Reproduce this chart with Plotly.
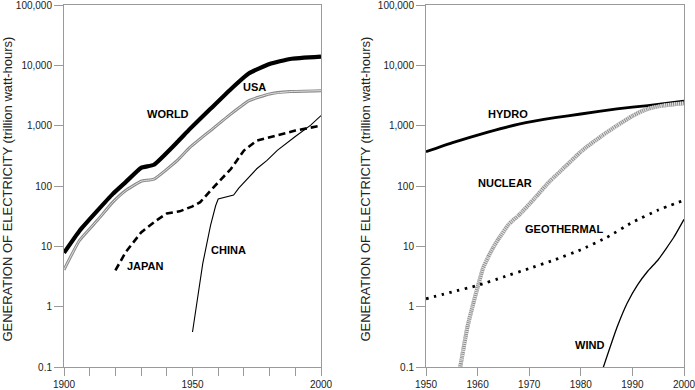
import plotly.graph_objects as go

# ---------------- data ----------------
world_years = [1900, 1906, 1913, 1919, 1924, 1930, 1935, 1944, 1949, 1957, 1965, 1972, 1980, 1988, 2000]
world_vals = [7.8, 18, 39, 74, 116, 200, 225, 530, 885, 1900, 4060, 7380, 10550, 12760, 13900]

usa_years = [1900, 1906, 1913, 1919, 1924, 1930, 1935, 1944, 1949, 1957, 1965, 1972, 1980, 1988, 2000]
usa_vals = [4.1, 12.5, 27, 54, 84, 120, 130, 263, 437, 830, 1570, 2600, 3360, 3670, 3800]

japan_years = [1920, 1924, 1930, 1936, 1940, 1945, 1950, 1953, 1957, 1962, 1965, 1967, 1970, 1975, 1983, 1990, 2000]
japan_vals = [4.0, 8, 17, 27, 35, 38, 46, 54, 84, 140, 193, 255, 387, 566, 685, 830, 1000]

china_years = [1950, 1952, 1954, 1957, 1959, 1960, 1966, 1968, 1975, 1979, 1983, 1990, 1996, 2000]
china_vals = [0.38, 1.3, 5.2, 22, 47, 61, 71, 92, 193, 265, 390, 660, 1020, 1470]

hydro_years = [1950, 1955, 1962, 1968, 1975, 1980, 1987, 1993, 2000]
hydro_vals = [370, 520, 780, 1060, 1360, 1560, 1900, 2150, 2550]

nuclear_years = [1956, 1957, 1958, 1959, 1960, 1961, 1962, 1963, 1964, 1966, 1968, 1971, 1974, 1977, 1980, 1984, 1987, 1990, 1993, 1996, 2000]
nuclear_vals = [0.05, 0.15, 0.45, 1.0, 2.1, 4.2, 6.5, 9.5, 13, 23, 33, 62, 120, 210, 370, 670, 1000, 1450, 1900, 2150, 2350]

geo_years = [1950, 1955, 1960, 1965, 1970, 1975, 1980, 1985, 1990, 1995, 2000]
geo_vals = [1.35, 1.75, 2.25, 3.1, 4.3, 6.0, 8.8, 14, 25, 40, 58]

wind_years = [1984, 1987, 1989, 1991, 1993, 1995, 1998, 2000]
wind_vals = [0.08, 0.45, 1.15, 2.3, 3.9, 6.0, 14, 28]

ytick_vals = [0.1, 1, 10, 100, 1000, 10000, 100000]
ytick_text = ["0.1", "1", "10", "100", "1,000", "10,000", "100,000"]
left_xticks = list(range(1900, 2001, 10))
left_xtext = ["1900", "", "", "", "", "1950", "", "", "", "", "2000"]
right_xticks = list(range(1950, 2001, 10))
right_xtext = [str(v) for v in right_xticks]

ytitle = "GENERATION OF ELECTRICITY (trillion watt-hours)"

FONT = "Liberation Sans, Arial, Helvetica, sans-serif"
AXIS_GREY = "#9a9a9a"
SM = 0.4

fig = go.Figure()

# ---------------- left panel ----------------
fig.add_trace(go.Scatter(x=world_years, y=world_vals, mode="lines",
                         line=dict(color="black", width=4.2, shape="spline", smoothing=SM),
                         xaxis="x", yaxis="y", hoverinfo="skip"))
fig.add_trace(go.Scatter(x=usa_years, y=usa_vals, mode="lines",
                         line=dict(color="#8a8a8a", width=3, shape="spline", smoothing=SM),
                         xaxis="x", yaxis="y", hoverinfo="skip"))
fig.add_trace(go.Scatter(x=usa_years, y=usa_vals, mode="lines",
                         line=dict(color="#e2e2e2", width=1, shape="spline", smoothing=SM),
                         xaxis="x", yaxis="y", hoverinfo="skip"))
fig.add_trace(go.Scatter(x=japan_years, y=japan_vals, mode="lines",
                         line=dict(color="black", width=2.6, dash="7px,4px"),
                         xaxis="x", yaxis="y", hoverinfo="skip"))
fig.add_trace(go.Scatter(x=china_years, y=china_vals, mode="lines",
                         line=dict(color="black", width=1.1),
                         xaxis="x", yaxis="y", hoverinfo="skip"))

# ---------------- right panel ----------------
fig.add_trace(go.Scatter(x=hydro_years, y=hydro_vals, mode="lines",
                         line=dict(color="black", width=2.8, shape="spline", smoothing=SM),
                         xaxis="x2", yaxis="y2", hoverinfo="skip"))
fig.add_trace(go.Scatter(x=nuclear_years, y=nuclear_vals, mode="lines",
                         line=dict(color="#8e8e8e", width=4, shape="spline", smoothing=SM),
                         xaxis="x2", yaxis="y2", hoverinfo="skip"))
fig.add_trace(go.Scatter(x=nuclear_years, y=nuclear_vals, mode="lines",
                         line=dict(color="#e6e6e6", width=4, shape="spline", smoothing=SM, dash="1px,1px"),
                         xaxis="x2", yaxis="y2", hoverinfo="skip"))
fig.add_trace(go.Scatter(x=geo_years, y=geo_vals, mode="lines",
                         line=dict(color="black", width=2.8, shape="spline", smoothing=SM, dash="2.5px,5.5px"),
                         xaxis="x2", yaxis="y2", hoverinfo="skip"))
fig.add_trace(go.Scatter(x=wind_years, y=wind_vals, mode="lines",
                         line=dict(color="black", width=1.3, shape="spline", smoothing=SM),
                         xaxis="x2", yaxis="y2", hoverinfo="skip"))

common_y = dict(type="log", range=[-1, 5], tickvals=ytick_vals, ticktext=ytick_text,
                showgrid=False, zeroline=False, showline=True, linecolor=AXIS_GREY, linewidth=1,
                mirror=True, ticks="outside", ticklen=9, tickcolor=AXIS_GREY, tickwidth=1,
                tickfont=dict(family=FONT, size=10, color="#222"), automargin=False,
                ticklabeloverflow="allow", domain=[0, 1])
common_x = dict(showgrid=False, zeroline=False, showline=True, linecolor=AXIS_GREY, linewidth=1,
                mirror=True, ticks="outside", ticklen=8, tickcolor=AXIS_GREY, tickwidth=1,
                tickfont=dict(family=FONT, size=10, color="#222"), automargin=False,
                ticklabeloverflow="allow")

fig.update_layout(
    width=695, height=390,
    margin=dict(l=0, r=0, t=5, b=23),
    paper_bgcolor="white", plot_bgcolor="white",
    showlegend=False,
    template="none",
    xaxis=dict(common_x, range=[1900, 2000], domain=[64 / 695, 321 / 695],
               tickvals=left_xticks, ticktext=left_xtext, anchor="y"),
    yaxis=dict(common_y, anchor="x"),
    xaxis2=dict(common_x, range=[1950, 2000], domain=[426 / 695, 684 / 695],
                tickvals=right_xticks, ticktext=right_xtext, anchor="y2"),
    yaxis2=dict(common_y, anchor="x2"),
)

lab = dict(family=FONT, size=11, color="black")
labels = [
    ("x", "y", 1940.3, 3.2, "<b>WORLD</b>"),
    ("x", "y", 1974.3, 3.636, "<b>USA</b>"),
    ("x", "y", 1931.9, 0.672, "<b>JAPAN</b>"),
    ("x", "y", 1963.9, 0.932, "<b>CHINA</b>"),
    ("x2", "y2", 1965.95, 3.187, "<b>HYDRO</b>"),
    ("x2", "y2", 1965.25, 2.058, "<b>NUCLEAR</b>"),
    ("x2", "y2", 1976.9, 1.291, "<b>GEOTHERMAL</b>"),
    ("x2", "y2", 1981.6, -0.636, "<b>WIND</b>"),
]
for xr, yr, xv, yv, t in labels:
    fig.add_annotation(xref=xr, yref=yr, x=xv, y=yv, text=t, showarrow=False,
                       font=lab, xanchor="center", yanchor="middle")

for xp in (8 / 695, 366 / 695):
    fig.add_annotation(xref="paper", yref="paper", x=xp, y=0.49, text=ytitle,
                       textangle=-90, showarrow=False, xanchor="center", yanchor="middle",
                       font=dict(family=FONT, size=13, color="#222"))

fig.write_html("out.html", config={"displayModeBar": False},
               post_script="document.body.style.margin='0';document.body.style.overflow='hidden';")
